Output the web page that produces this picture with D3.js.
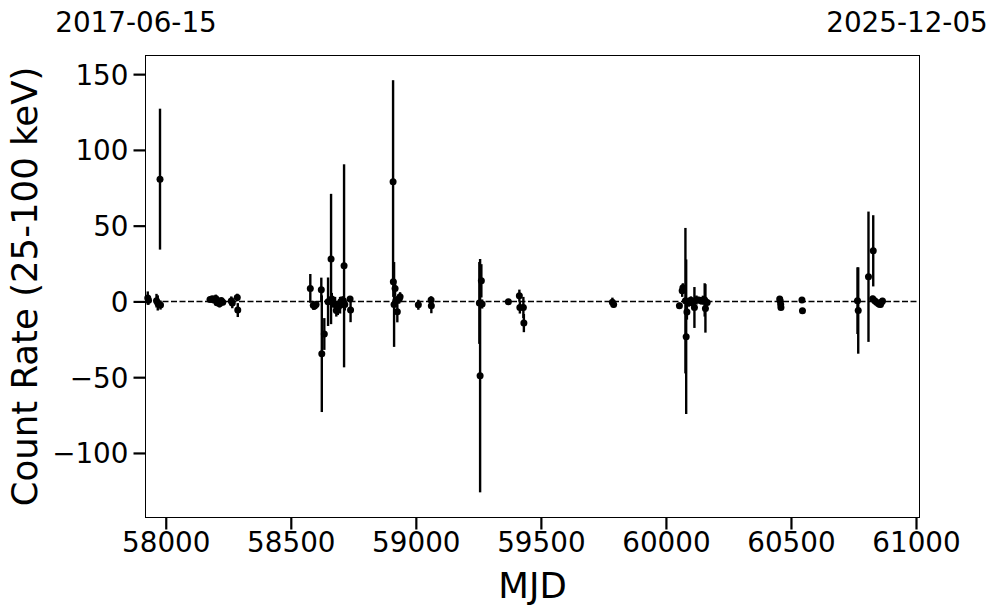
<!DOCTYPE html>
<html>
<head>
<meta charset="utf-8">
<script src="https://cdn.jsdelivr.net/npm/d3@7"></script>
<style>
  body { margin: 0; background: #fff; }
  text { font-family: 'DejaVu Sans', sans-serif; fill: #000; }
</style>
</head>
<body>
<svg id="chart" width="997" height="613"></svg>
<script>
'use strict';

// observation dates (MJD), count rates and 1-sigma errors
var mjd = [
    57928, 57931, 57963, 57968, 57977, 57979,
    58177, 58186, 58192, 58200, 58205, 58210, 58215, 58222, 58228, 58262, 58266, 58286, 58288,
    58578, 58590, 58595, 58601, 58622, 58624, 58634, 58649, 58661, 58664, 58670, 58677, 58682,
    58688, 58693, 58697, 58703, 58710, 58713, 58716, 58737, 58739,
    58909, 58910, 58913, 58917, 58920, 58926, 58933, 58937, 59010, 59061, 59062,
    59254, 59257, 59262, 59265, 59370, 59414, 59416, 59430, 59432,
    59786, 59791,
    60054, 60065, 60068, 60078, 60081, 60084, 60092, 60100, 60106, 60114, 60122, 60130,
    60140, 60148, 60155, 60158, 60165,
    60455, 60457, 60459, 60460, 60544, 60546,
    60766, 60769, 60810, 60829, 60827, 60835, 60842, 60850, 60858, 60862, 60866
];
var rate = [
    2.2, 0.8, 0.5, -1.0, 80.7, -2.4,
    1.2, 1.8, 0.9, 2.0, -0.8, 0.3, -1.5, 0.6, -0.5, 0.3, -1.0, 2.6, -5.7,
    8.6, -2.6, -3.0, -2.0, 7.7, -34.5, -21.5, -0.2, 28.0, 1.6, -1.0, -2.0, -6.0,
    -4.5, -1.5, -2.5, 0.3, 0.5, 23.5, -2.0, 1.6, -5.7,
    79.0, 13.0, -2.0, 8.6, 0.5, -6.8, 1.5, 3.1, -2.2, 0.9, -2.8,
    -1.0, -49.0, 13.6, -1.7, -0.2, 3.8, -4.0, -4.0, -14.3,
    -0.5, -2.0,
    -2.8, 7.0, 9.0, 0.5, -23.3, -7.0, -0.5, 0.8, -1.0, -4.0, 0.9, 1.0,
    0.5, 0.8, 1.0, -4.6, -0.7,
    1.6, 0.3, -2.0, -4.0, 0.9, -6.1,
    0.5, -6.0, 16.3, 33.4, 1.7, 0.5, -0.5, -1.5, -2.0, -0.5, 0.3
];
var rateErr = [
    4.4, 3, 4.5, 5, 46.5, 3,
    1.5, 1.5, 2, 2.5, 2, 2, 2.5, 1.5, 2, 3, 3.5, 2.5, 4.6,
    9.5, 3, 2.5, 2, 8, 38.5, 10.5, 16, 43, 4, 3, 5, 4,
    4.5, 3, 5.5, 3, 3, 67, 4, 2, 8,
    67, 10, 28, 5, 3, 7, 3, 3, 3.3, 2.5, 5,
    27, 77, 11, 3, 1.5, 4, 4, 7, 6,
    3, 2,
    2, 4, 3, 48, 51, 5, 3, 2.5, 2, 13.5, 3, 2,
    2.5, 3, 11, 16, 2,
    1.5, 2, 2, 1.5, 1.5, 1.5,
    22, 28.5, 43, 23.5, 2, 2, 2, 2.5, 2, 2.5, 2
];

var xTicks = [58000, 58500, 59000, 59500, 60000, 60500, 61000];
var yTicks = [-100, -50, 0, 50, 100, 150];
var startDate = '2017-06-15', endDate = '2025-12-05';
var mjdStart = 57919, mjdEnd = 61014;

var margin = {left: 145.5, right: 919.5, top: 55.5, bottom: 517.5};

var data = mjd.map(function (d, i) {
    return {t: d, r: rate[i], e: rateErr[i]};
});

var svg = d3.select('#chart');

var x = d3.scaleLinear()
    .domain([mjdStart, mjdEnd])
    .range([margin.left, margin.right]);

var y = d3.scaleLinear()
    .domain([-142.6, 162.3])
    .range([margin.bottom, margin.top]);

// zero line
svg.append('line')
    .attr('x1', margin.left).attr('x2', margin.right)
    .attr('y1', y(0)).attr('y2', y(0))
    .style('stroke', '#000')
    .style('stroke-width', 1.5)
    .style('stroke-dasharray', '6,2.5');

// error bars
svg.append('g').selectAll('line')
    .data(data)
    .enter().append('line')
    .attr('x1', function (d) {return x(d.t);})
    .attr('x2', function (d) {return x(d.t);})
    .attr('y1', function (d) {return y(d.r - d.e);})
    .attr('y2', function (d) {return y(d.r + d.e);})
    .style('stroke', '#000')
    .style('stroke-width', 2.4);

svg.append('g').selectAll('circle')
    .data(data)
    .enter().append('circle')
    .attr('cx', function (d) {return x(d.t);})
    .attr('cy', function (d) {return y(d.r);})
    .attr('r', 3.5)
    .style('fill', '#000');

// axes
var fmtY = function (d) {return d < 0 ? '\u2212' + Math.abs(d) : d;};

var xAxis = svg.append('g')
    .attr('transform', 'translate(0,' + margin.bottom + ')')
    .call(d3.axisBottom(x).tickValues(xTicks).tickFormat(d3.format('d'))
        .tickSize(12).tickPadding(3));

var yAxis = svg.append('g')
    .attr('transform', 'translate(' + margin.left + ',0)')
    .call(d3.axisLeft(y).tickValues(yTicks).tickFormat(fmtY)
        .tickSize(12).tickPadding(5));

[xAxis, yAxis].forEach(function (ax) {
    ax.select('.domain').remove();
    ax.selectAll('.tick line').style('stroke', '#000').style('stroke-width', 2.2);
    ax.selectAll('.tick text').style('font-size', '27.8px').style('fill', '#000')
        .attr('font-family', 'DejaVu Sans');
});
yAxis.selectAll('.tick text').attr('dy', '0.36em');

// frame
svg.append('rect')
    .attr('x', margin.left).attr('y', margin.top)
    .attr('width', margin.right - margin.left)
    .attr('height', margin.bottom - margin.top)
    .style('fill', 'none')
    .style('stroke', '#000')
    .style('stroke-width', 1);

// labels
svg.append('text')
    .attr('x', (margin.left + margin.right) / 2)
    .attr('y', 598)
    .attr('text-anchor', 'middle')
    .style('font-size', '35.5px')
    .text('MJD');

svg.append('text')
    .attr('transform', 'translate(37,' + (margin.top + margin.bottom) / 2 + ') rotate(-90)')
    .attr('text-anchor', 'middle')
    .style('font-size', '35.5px')
    .text('Count Rate (25-100 keV)');

svg.append('text')
    .attr('x', 136).attr('y', 32)
    .attr('text-anchor', 'middle')
    .style('font-size', '27.8px')
    .text(startDate);

svg.append('text')
    .attr('x', 907).attr('y', 32)
    .attr('text-anchor', 'middle')
    .style('font-size', '27.8px')
    .text(endDate);
</script>
</body>
</html>
